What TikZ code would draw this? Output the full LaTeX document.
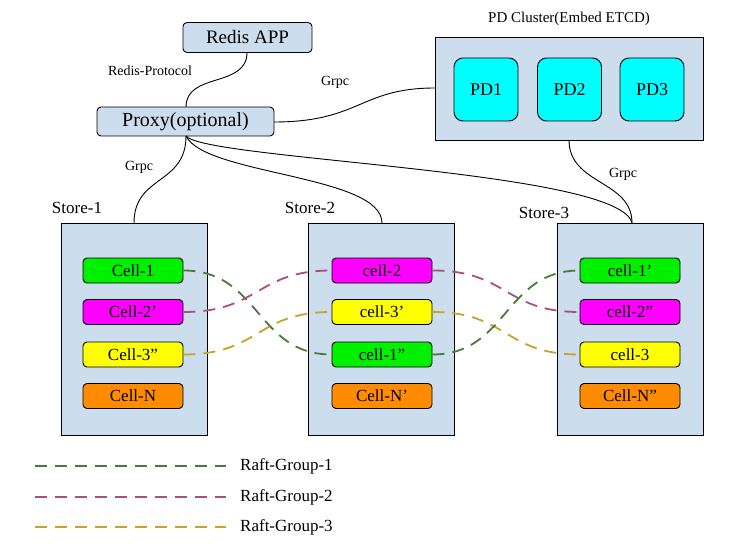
\documentclass[tikz,border=0pt]{standalone}
\usepackage{fontspec}
\setmainfont{Liberation Serif}
\begin{document}
\begin{tikzpicture}[x=1pt,y=-1pt,
  box/.style={draw=black,line width=0.9pt,fill=storeblue,inner sep=0pt},
  rbox/.style={box,rounded corners=4pt},
  cell/.style={draw=black,line width=0.9pt,rounded corners=4pt,minimum width=100pt,minimum height=25pt,inner sep=0pt,font=\fontsize{17}{19}\selectfont},
  pd/.style={draw=black,line width=0.9pt,fill=pdcyan,rounded corners=9pt,minimum width=64pt,minimum height=63pt,inner sep=0pt,font=\fontsize{18}{20}\selectfont},
  store/.style={box,minimum width=146pt,minimum height=212pt},
  lab/.style={inner sep=0pt,font=\fontsize{17}{19}\selectfont},
  small/.style={inner sep=0pt,font=\fontsize{14}{16}\selectfont},
  wire/.style={draw=black,line width=0.9pt},
  raft/.style={line width=1.8pt,dash pattern=on 12pt off 8pt},
  g1/.style={raft,draw=raftgreen},
  g2/.style={raft,draw=raftmag},
  g3/.style={raft,draw=raftgold}]
\definecolor{storeblue}{HTML}{CCDDEE}
\definecolor{pdcyan}{HTML}{00FFFF}
\definecolor{cellgreen}{HTML}{00F000}
\definecolor{cellmag}{HTML}{FF00FF}
\definecolor{cellyel}{HTML}{FFFF00}
\definecolor{cellor}{HTML}{FF8C00}
\definecolor{raftgreen}{HTML}{4A7A3A}
\definecolor{raftmag}{HTML}{A8507E}
\definecolor{raftgold}{HTML}{C9A228}
\useasboundingbox (0,0) rectangle (752,556);

% top
\node[rbox,minimum width=129pt,minimum height=30pt,font=\fontsize{19}{21}\selectfont] (redis) at (247.5,37.5) {Redis APP};
\node[rbox,minimum width=177pt,minimum height=29pt,font=\fontsize{20}{22}\selectfont] (proxy) at (185.5,121.5) {Proxy(optional)};
\node[box,minimum width=268pt,minimum height=103pt] (pdc) at (569,88.5) {};
\node[inner sep=0pt,font=\fontsize{15}{17}\selectfont] (pdlab) at (569,19) {PD Cluster(Embed ETCD)};
\node[pd] (pd1) at (486,89.5) {PD1};
\node[pd] (pd2) at (569.5,89.5) {PD2};
\node[pd] (pd3) at (652,89.5) {PD3};

% stores
\node[store] (s1) at (134,329) {};
\node[store] (s2) at (381.5,329) {};
\node[store] (s3) at (630.5,329) {};
\node[lab] (s1l) at (77,208) {Store-1};
\node[lab] (s2l) at (310,208) {Store-2};
\node[lab] (s3l) at (544,213) {Store-3};

% cells store 1
\node[cell,fill=cellgreen] (a1) at (133,270.5) {Cell-1};
\node[cell,fill=cellmag] (a2) at (133,312) {Cell-2’};
\node[cell,fill=cellyel] (a3) at (133,354.5) {Cell-3”};
\node[cell,fill=cellor] (a4) at (133,396) {Cell-N};
% store 2
\node[cell,fill=cellmag] (b1) at (382,270.5) {cell-2};
\node[cell,fill=cellyel] (b2) at (382,312) {cell-3’};
\node[cell,fill=cellgreen] (b3) at (382,354.5) {cell-1”};
\node[cell,fill=cellor] (b4) at (382,396) {Cell-N’};
% store 3
\node[cell,fill=cellgreen] (c1) at (630,270.5) {cell-1’};
\node[cell,fill=cellmag] (c2) at (630,312) {cell-2”};
\node[cell,fill=cellyel] (c3) at (630,354.5) {cell-3};
\node[cell,fill=cellor] (c4) at (630,396) {Cell-N”};

% solid connectors
\coordinate (rb) at (247,52.5);
\coordinate (pt) at (186,107);
\coordinate (pb) at (186,136);
\coordinate (pr) at (274,122);
\coordinate (pl) at (435,88);
\coordinate (pdb) at (569,140);
\coordinate (s1t) at (134,223);
\coordinate (s2t) at (382,223);
\coordinate (s3t) at (632,223);
\draw[wire] (rb) .. controls (247,88) and (186,72) .. (pt);
\draw[wire] (pr) .. controls (360,122) and (360,88) .. (pl);
\draw[wire] (pb) .. controls (186,185) and (134,175) .. (s1t);
\draw[wire] (pb) .. controls (205,175) and (382,175) .. (s2t);
\draw[wire] (pb) .. controls (205,160) and (620,170) .. (s3t);
\draw[wire] (pdb) .. controls (569,185) and (632,180) .. (s3t);

\node[small] (l1) at (150,71) {Redis-Protocol};
\node[small] (l2) at (335,82) {Grpc};
\node[small] (l3) at (139,167) {Grpc};
\node[small] (l4) at (623,174) {Grpc};

% raft groups
\draw[g1] (a1.east) .. controls (260,270.5) and (256,354.5) .. (b3.west);
\draw[g2] (a2.east) .. controls (260,312) and (256,270.5) .. (b1.west);
\draw[g3] (a3.east) .. controls (260,354.5) and (256,312) .. (b2.west);
\draw[g2] (b1.east) .. controls (508,270.5) and (504,312) .. (c2.west);
\draw[g3] (b2.east) .. controls (508,312) and (504,354.5) .. (c3.west);
\draw[g1] (b3.east) .. controls (508,354.5) and (504,270.5) .. (c1.west);

% legend
\coordinate (k1a) at (35,466); \coordinate (k1b) at (226,466);
\coordinate (k2a) at (35,497); \coordinate (k2b) at (226,497);
\coordinate (k3a) at (35,527); \coordinate (k3b) at (226,527);
\draw[g1] (k1a) -- (k1b);
\draw[g2] (k2a) -- (k2b);
\draw[g3] (k3a) -- (k3b);
\node[lab,anchor=west] (t1) at (240,466) {Raft-Group-1};
\node[lab,anchor=west] (t2) at (240,497) {Raft-Group-2};
\node[lab,anchor=west] (t3) at (240,527) {Raft-Group-3};
\end{tikzpicture}
\end{document}
